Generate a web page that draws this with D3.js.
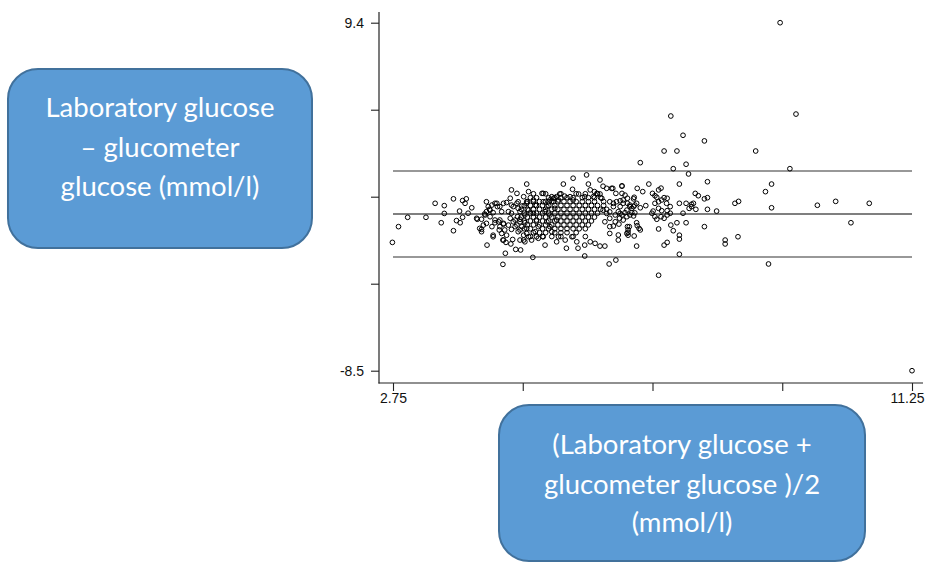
<!DOCTYPE html>
<html>
<head>
<meta charset="utf-8">
<script src="https://cdn.jsdelivr.net/npm/d3@7"></script>
<style>
  html, body { margin: 0; padding: 0; background: #fff; }
  svg { display: block; }
</style>
</head>
<body>
<svg id="chart" width="926" height="562"></svg>
<script>
// Bland–Altman plot: laboratory vs glucometer glucose

const meanTicks = [2.75, 4.875, 7, 9.125, 11.25];
const meanTickLabels = ["2.75", "", "", "", "11.25"];
const diffTicks = [9.4, 4.925, 0.45, -4.025, -8.5];
const diffTickLabels = ["9.4", "", "", "", "-8.5"];

// upper limit of agreement, mean difference, lower limit of agreement
const agreementLines = [1.77, -0.44, -2.65];

const yTitleLines = ["Laboratory glucose", "– glucometer", "glucose (mmol/l)"];
const xTitleLines = ["(Laboratory glucose +", "glucometer glucose )/2", "(mmol/l)"];

// [mean of the two methods, difference] in mmol/l
const outlyingPoints = [
  [9.09, 9.4], [11.25, -8.5], [9.35, 4.70], [7.30, 4.60], [7.50, 3.61], [7.85, 3.32],
  [7.19, 2.80], [7.40, 2.80], [8.69, 2.80], [7.55, 2.12], [7.34, 1.89], [9.25, 1.89],
  [7.59, 1.62], [6.80, 2.20], [6.94, 1.10], [6.84, 0.71], [7.00, 0.62], [7.04, 0.50],
  [7.10, 0.80], [7.14, 0.89], [7.19, 0.40], [7.44, 1.10], [7.70, 0.62], [7.75, 0.50],
  [7.90, 1.22], [7.90, 0.40], [7.85, 0.34], [8.85, 0.71], [8.95, 1.10],
  [7.90, -0.20], [8.05, -0.29], [8.35, 0.11], [8.41, 0.21], [8.95, -0.12], [9.70, 0.01],
  [10.00, 0.21], [10.55, 0.11], [10.25, -0.89], [7.85, -1.09], [8.19, -1.78], [8.19, -1.98],
  [8.40, -1.61], [8.90, -3.01]
];

const upperRangePoints = [
  [7.10, -3.59], [6.29, -3.01], [6.40, -2.81], [5.89, -2.60], [7.44, -2.51], [6.74, -2.09],
  [7.19, -2.04], [7.24, -1.90], [7.44, -1.73], [7.44, -1.53], [7.67, 0.11], [7.64, 0.06],
  [7.55, 0.11], [7.50, -0.40], [7.40, -0.89], [7.55, -0.89], [7.30, -1.01], [7.34, -1.30],
  [7.10, -1.21], [6.75, 0.88], [6.69, 0.34], [6.74, 0.11], [6.69, -0.06], [6.80, -0.12],
  [6.89, -0.01], [7.04, 0.11], [7.10, 0.19], [7.15, 0.28], [7.24, 0.37], [7.01, -0.29],
  [7.10, -0.15], [7.15, -0.27], [7.24, -0.27], [7.29, -0.06], [7.14, -0.58], [7.19, -0.66],
  [7.24, -0.49], [7.07, -0.71], [6.50, 0.62], [6.55, 0.53], [6.59, 0.37], [6.59, 0.11],
  [6.63, -0.06], [6.30, 0.19], [6.36, 0.11], [6.41, 0.19], [6.52, 0.11], [6.47, -0.06],
  [6.19, -0.24], [6.25, -0.41], [6.30, -0.33], [6.39, -0.49], [6.47, -0.41], [6.58, -0.24],
  [6.63, -0.49], [6.71, -0.38], [6.22, -0.84], [6.30, -0.66], [6.39, -0.84], [6.45, -0.96],
  [6.52, -0.75], [6.59, -1.09], [6.44, -1.52], [6.44, -1.78], [6.30, -1.44], [6.60, -1.39],
  [6.62, -1.09], [6.74, -0.89], [6.75, -1.04], [6.70, -1.57], [6.05, 0.71], [6.14, 1.31],
  [6.19, 0.99], [6.25, 0.88], [6.35, 0.88], [6.40, 0.62], [6.50, 0.99], [5.95, 1.10],
  [5.98, 0.80], [6.03, 0.45], [6.09, 0.62], [6.14, 0.59], [6.17, 0.37], [5.92, 1.57],
  [5.70, 1.40], [5.54, 1.10], [5.69, 0.83], [5.48, 0.59], [5.38, 0.37], [5.32, 0.28],
  [5.21, 0.62],
  [6.33, 0.88], [6.50, 1.01], [6.70, 0.42], [7.07, 0.42], [6.47, 0.24], [6.52, 0.28],
  [6.63, 0.02], [6.71, 0.02], [6.66, -0.15], [7.23, 0.11], [7.44, 0.11], [7.60, -0.15],
  [7.71, -0.20], [6.36, -0.06], [6.44, -0.32], [6.50, -0.49], [6.55, -0.37], [6.66, -0.37],
  [6.46, -0.66], [6.30, -1.09], [6.36, -1.06], [6.58, -0.58], [6.69, -0.54], [6.78, -1.18],
  [6.80, -1.26], [6.60, -1.26], [6.58, -1.44], [6.60, -1.53], [6.99, -0.40], [7.04, -0.58],
  [7.29, -0.40], [7.64, -0.06]
];

const lowerRangePoints = [
  [2.74, -1.90], [2.84, -1.09], [2.99, -0.61], [3.29, -0.61], [3.44, 0.11], [3.59, -0.01],
  [3.59, -0.41], [3.54, -0.89], [3.74, 0.34], [3.74, -1.30], [3.89, 0.25], [3.95, 0.34],
  [3.93, 0.11], [3.84, -0.29], [3.89, -0.61], [3.79, -0.78], [3.85, -0.89], [3.98, -0.40],
  [4.04, -0.12], [4.13, -0.71], [4.20, -0.71], [4.17, -1.18], [4.20, -1.35], [4.23, -1.01],
  [4.28, 0.19], [4.31, -0.06], [4.28, -0.32], [4.26, -0.49], [4.34, -0.24], [4.29, -2.04],
  [4.39, -1.61], [4.42, -0.75], [4.45, 0.11], [4.50, -0.06], [4.56, 0.11], [4.53, -0.32],
  [4.48, -0.84], [4.50, -1.09], [4.56, -0.92], [4.49, -1.26], [4.55, -1.78], [4.60, -1.90],
  [4.59, -2.46], [4.55, -3.03], [4.69, 0.80], [4.61, 0.15], [4.67, 0.37], [4.72, -0.06],
  [4.69, -0.40], [4.67, -0.66], [4.72, -0.84], [4.64, -1.01], [4.69, -1.23], [4.75, -1.09],
  [4.68, -1.98], [4.84, -2.29], [4.78, 0.62], [4.80, 0.19], [4.80, -0.15], [4.79, -0.58],
  [4.83, -0.84], [4.83, -1.26], [4.89, -1.53], [4.89, -1.78], [4.94, -1.44], [4.94, 1.10],
  [4.89, 0.45], [4.97, 0.71], [4.94, 0.11], [4.97, -0.24], [5.04, -2.67], [5.05, 0.28],
  [5.08, 0.02], [5.05, -0.40], [5.10, -0.75], [5.13, -1.09], [5.08, -1.35], [5.10, -1.61],
  [5.19, 0.62], [5.21, 0.19], [5.27, -0.06], [5.24, -0.32], [5.32, -0.49], [5.27, -0.84],
  [5.32, -1.09], [5.35, -1.35], [5.38, 0.19], [5.43, 0.45], [5.40, -0.15], [5.43, -0.75],
  [5.46, -1.61], [5.21, -1.61],
  [5.35, 0.45], [5.30, 0.19], [5.46, 0.28], [5.56, 0.48], [5.65, 0.45], [5.70, 0.28],
  [5.79, 0.59], [5.89, 0.45], [5.02, -1.78], [5.13, -1.69], [5.24, -2.04], [5.43, -1.87],
  [5.57, -1.78], [5.68, -1.61], [5.76, -1.87], [5.89, -2.04], [5.98, -1.87], [6.06, -1.95],
  [6.14, -2.09], [6.22, -2.09], [5.59, -2.20], [5.78, -2.20],
  [4.12, -0.66], [4.20, -1.23], [4.25, -0.44], [4.33, -0.20], [4.37, 0.02], [4.42, 0.11],
  [4.46, -0.06], [4.39, -0.37], [4.34, -0.58], [4.28, -0.92], [4.37, -1.09], [4.42, -0.89],
  [4.50, -0.75], [4.56, -0.96], [4.58, -1.26], [4.53, -1.44], [4.61, -1.53], [4.39, -1.53],
  [4.56, -1.78], [4.71, -1.75], [4.76, -2.26], [4.69, 0.02], [4.78, 0.11], [4.86, -0.03],
  [4.94, 0.19], [4.64, -0.32], [4.83, -0.32], [4.91, -0.49], [4.75, -0.75], [4.83, -0.71],
  [4.91, -0.89], [4.78, -1.01], [4.86, -1.09], [4.94, -1.18], [4.80, -1.35], [4.97, -1.61],
  [4.83, -1.78], [4.91, -1.87]
];

// the densely packed core of the cluster, row by row
const corePoints = [
  [5.05, 0.6], [5.25, 0.6], [5.50, 0.6], [5.75, 0.6], [5.90, 0.6], [6.10, 0.6],
  [5.00, 0.4], [5.10, 0.4], [5.30, 0.4], [5.40, 0.4], [5.50, 0.4], [5.60, 0.4], [5.70, 0.4],
  [5.85, 0.4], [5.95, 0.4], [6.05, 0.4], [6.15, 0.4],
  [4.95, 0.2], [5.05, 0.2], [5.15, 0.2], [5.25, 0.2], [5.35, 0.2], [5.45, 0.2], [5.55, 0.2],
  [5.65, 0.2], [5.75, 0.2], [5.85, 0.2], [5.95, 0.2], [6.05, 0.2], [6.20, 0.2],
  [4.90, 0.0], [5.00, 0.0], [5.10, 0.0], [5.20, 0.0], [5.30, 0.0], [5.40, 0.0], [5.50, 0.0],
  [5.60, 0.0], [5.70, 0.0], [5.80, 0.0], [5.90, 0.0], [6.00, 0.0], [6.10, 0.0], [6.20, 0.0],
  [4.85, -0.2], [4.95, -0.2], [5.05, -0.2], [5.15, -0.2], [5.25, -0.2], [5.35, -0.2],
  [5.45, -0.2], [5.55, -0.2], [5.65, -0.2], [5.75, -0.2], [5.85, -0.2], [5.95, -0.2],
  [6.05, -0.2], [6.15, -0.2], [6.25, -0.2],
  [4.90, -0.4], [5.00, -0.4], [5.10, -0.4], [5.20, -0.4], [5.30, -0.4], [5.40, -0.4],
  [5.50, -0.4], [5.60, -0.4], [5.70, -0.4], [5.80, -0.4], [5.90, -0.4], [6.00, -0.4], [6.10, -0.4],
  [4.85, -0.6], [4.95, -0.6], [5.05, -0.6], [5.15, -0.6], [5.25, -0.6], [5.35, -0.6],
  [5.45, -0.6], [5.55, -0.6], [5.65, -0.6], [5.75, -0.6], [5.85, -0.6], [5.95, -0.6], [6.05, -0.6],
  [4.90, -0.8], [5.00, -0.8], [5.10, -0.8], [5.20, -0.8], [5.30, -0.8], [5.40, -0.8],
  [5.50, -0.8], [5.60, -0.8], [5.70, -0.8], [5.80, -0.8], [5.90, -0.8], [6.00, -0.8],
  [4.95, -1.0], [5.05, -1.0], [5.15, -1.0], [5.25, -1.0], [5.35, -1.0], [5.45, -1.0],
  [5.55, -1.0], [5.65, -1.0], [5.75, -1.0], [5.85, -1.0], [5.95, -1.0],
  [4.90, -1.2], [5.00, -1.2], [5.20, -1.2], [5.30, -1.2], [5.40, -1.2], [5.50, -1.2],
  [5.60, -1.2], [5.70, -1.2], [5.80, -1.2], [5.90, -1.2],
  [5.05, -1.4], [5.15, -1.4], [5.25, -1.4], [5.40, -1.4], [5.50, -1.4], [5.60, -1.4], [5.75, -1.4],
  [5.00, -1.6], [5.20, -1.6], [5.35, -1.6], [5.50, -1.6], [5.70, -1.6], [5.90, -1.6]
];

const allPoints = [...corePoints, ...lowerRangePoints, ...upperRangePoints, ...outlyingPoints];

const svg = d3.select("#chart");

// scales: the extreme data values sit at the first and last ticks
const x = d3.scaleLinear().domain([2.75, 11.25]).range([393, 912]);
const y = d3.scaleLinear().domain([-8.5, 9.4]).range([370.7, 22.7]);

const axisLeftX = 379;
const axisBottomY = 383;
const axisColor = "#222";

// axis lines
svg.append("line")
  .attr("x1", axisLeftX).attr("x2", axisLeftX)
  .attr("y1", 12).attr("y2", axisBottomY + 0.5)
  .attr("stroke", axisColor).attr("stroke-width", 1.2);
svg.append("line")
  .attr("x1", axisLeftX - 0.5).attr("x2", 923)
  .attr("y1", axisBottomY).attr("y2", axisBottomY)
  .attr("stroke", axisColor).attr("stroke-width", 1.2);

const tickFont = "'Liberation Sans', Arial, sans-serif";

const yAxis = svg.append("g")
  .attr("transform", `translate(${axisLeftX},0)`)
  .call(d3.axisLeft(y)
    .tickValues(diffTicks)
    .tickFormat((d, i) => diffTickLabels[i])
    .tickSize(8)
    .tickPadding(7)
    .tickSizeOuter(0));
yAxis.select(".domain").remove();

const xAxis = svg.append("g")
  .attr("transform", `translate(0,${axisBottomY})`)
  .call(d3.axisBottom(x)
    .tickValues(meanTicks)
    .tickFormat((d, i) => meanTickLabels[i])
    .tickSize(8)
    .tickPadding(2)
    .tickSizeOuter(0));
xAxis.select(".domain").remove();

[yAxis, xAxis].forEach(g => {
  g.selectAll(".tick line").attr("stroke", axisColor).attr("stroke-width", 1.1);
  g.selectAll(".tick text")
    .attr("fill", "#111")
    .style("font-family", tickFont)
    .style("font-size", "14px");
});
// keep the last mean label inside the page edge
xAxis.selectAll(".tick text")
  .filter((d, i) => i === meanTicks.length - 1)
  .attr("x", -5);

// mean difference and limits of agreement
svg.append("g")
  .selectAll("line")
  .data(agreementLines)
  .join("line")
  .attr("x1", x(2.75)).attr("x2", x(11.25))
  .attr("y1", d => y(d)).attr("y2", d => y(d))
  .attr("stroke", (d, i) => i === 1 ? "#000" : "#333")
  .attr("stroke-width", 1.1);

// observations as hollow circles
svg.append("g")
  .selectAll("circle")
  .data(allPoints)
  .join("circle")
  .attr("cx", d => x(d[0]))
  .attr("cy", d => y(d[1]))
  .attr("r", 2.35)
  .attr("fill", "none")
  .attr("stroke", "#000")
  .attr("stroke-width", 1);

// axis titles in rounded callout boxes
function callout(rect, lines, baselines) {
  const g = svg.append("g");
  g.append("rect")
    .attr("x", rect.x).attr("y", rect.y)
    .attr("width", rect.w).attr("height", rect.h)
    .attr("rx", 30).attr("ry", 30)
    .attr("fill", "#5b9bd5")
    .attr("stroke", "#41719c")
    .attr("stroke-width", 2);
  g.selectAll("text")
    .data(lines)
    .join("text")
    .attr("x", rect.x + rect.w / 2)
    .attr("y", (d, i) => baselines[i])
    .attr("text-anchor", "middle")
    .attr("fill", "#fff")
    .style("font-family", "Lato, 'Open Sans', sans-serif")
    .style("font-size", "27.5px")
    .text(d => d);
}

callout({ x: 8, y: 69, w: 304, h: 179 }, yTitleLines, [117, 157, 196]);
callout({ x: 499, y: 405, w: 366, h: 156 }, xTitleLines, [454, 494, 532]);
</script>
</body>
</html>
